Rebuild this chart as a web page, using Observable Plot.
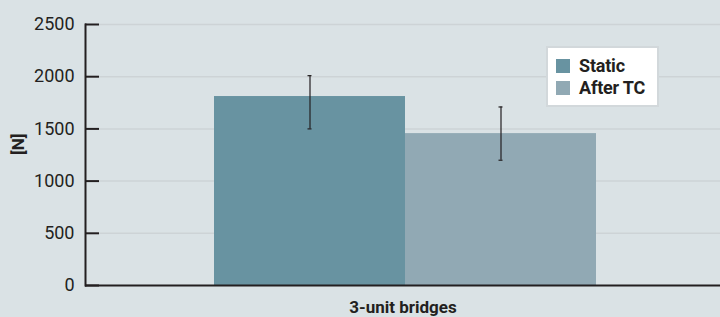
<!DOCTYPE html>
<html>
<head>
<meta charset="utf-8">
<script src="https://cdn.jsdelivr.net/npm/d3@7"></script>
<script src="https://cdn.jsdelivr.net/npm/@observablehq/plot@0.6"></script>
<style>
  html, body { margin: 0; padding: 0; background: #dae2e5; }
  #wrap { position: relative; width: 720px; height: 317px; font-family: Roboto, sans-serif; }
  #legend { position: absolute; left: 546px; top: 46px; width: 109px; height: 57px; background: #fff; border: 2px solid #d2d8db; }
  .item { position: absolute; left: 8px; font-weight: bold; font-size: 18px; color: #231f20; line-height: 20px; letter-spacing: -0.2px; }
  .sw { display: inline-block; width: 14px; height: 14px; vertical-align: top; margin-top: 3px; margin-right: 9px; }
</style>
</head>
<body>
<div id="wrap"></div>
<script>
const categories = ["3-unit bridges"];
const series = ["Static", "After TC"];
const means = [1810, 1455];
const errLow = [1500, 1200];
const errHigh = [2010, 1710];
const colors = ["#6893a1", "#91a9b4"];
const yTicks = [0, 500, 1000, 1500, 2000, 2500];
const yLabel = "[N]";

const data = series.map((s, i) => ({series: s, category: categories[0], value: means[i], lo: errLow[i], hi: errHigh[i]}));

const ink = "#231f20";
const font = "Roboto, sans-serif";

const chart = Plot.plot({
  width: 720,
  height: 317,
  marginLeft: 85,
  marginRight: 0,
  marginTop: 24,
  marginBottom: 32,
  style: {background: "#dae2e5", fontFamily: font, color: ink, overflow: "visible"},
  x: {domain: series, paddingInner: 0, paddingOuter: 0.654, align: 0.51, axis: null},
  y: {domain: [0, 2500], axis: null},
  color: {domain: series, range: colors},
  marks: [
    Plot.ruleY(yTicks.filter(d => d > 0), {stroke: "#cdd3d6", strokeWidth: 1.5, insetLeft: 14}),
    Plot.barY(data, {x: "series", y: "value", fill: "series"}),
    Plot.ruleX(data, {x: "series", y1: "lo", y2: "hi", stroke: ink, strokeWidth: 1.2}),
    Plot.tickY(data, {x: "series", y: "lo", stroke: ink, strokeWidth: 1.2, insetLeft: 93.5, insetRight: 93.5}),
    Plot.tickY(data, {x: "series", y: "hi", stroke: ink, strokeWidth: 1.2, insetLeft: 93.5, insetRight: 93.5}),
    Plot.axisY({ticks: yTicks, tickSize: -14, tickPadding: 25, strokeWidth: 2, stroke: ink, fontSize: 18, fill: ink, tickFormat: d => String(d), label: null}),
    Plot.frame({anchor: "left", stroke: ink, strokeWidth: 2}),
    Plot.ruleY([0], {stroke: ink, strokeWidth: 2}),
    Plot.text(categories, {text: d => d, frameAnchor: "bottom", lineAnchor: "middle", dy: 22, fontSize: 17, fontWeight: "bold", fill: ink}),
    Plot.text([yLabel], {text: d => d, frameAnchor: "left", dx: -67, rotate: -90, fontSize: 17, fontWeight: "bold", fill: ink})
  ]
});

const wrap = document.getElementById("wrap");
wrap.appendChild(chart);

const legend = document.createElement("div");
legend.id = "legend";
series.forEach((s, i) => {
  const it = document.createElement("div");
  it.className = "item";
  it.style.top = (8 + i * 22) + "px";
  it.innerHTML = `<span class="sw" style="background:${colors[i]}"></span>${s}`;
  legend.appendChild(it);
});
wrap.appendChild(legend);
</script>
</body>
</html>
